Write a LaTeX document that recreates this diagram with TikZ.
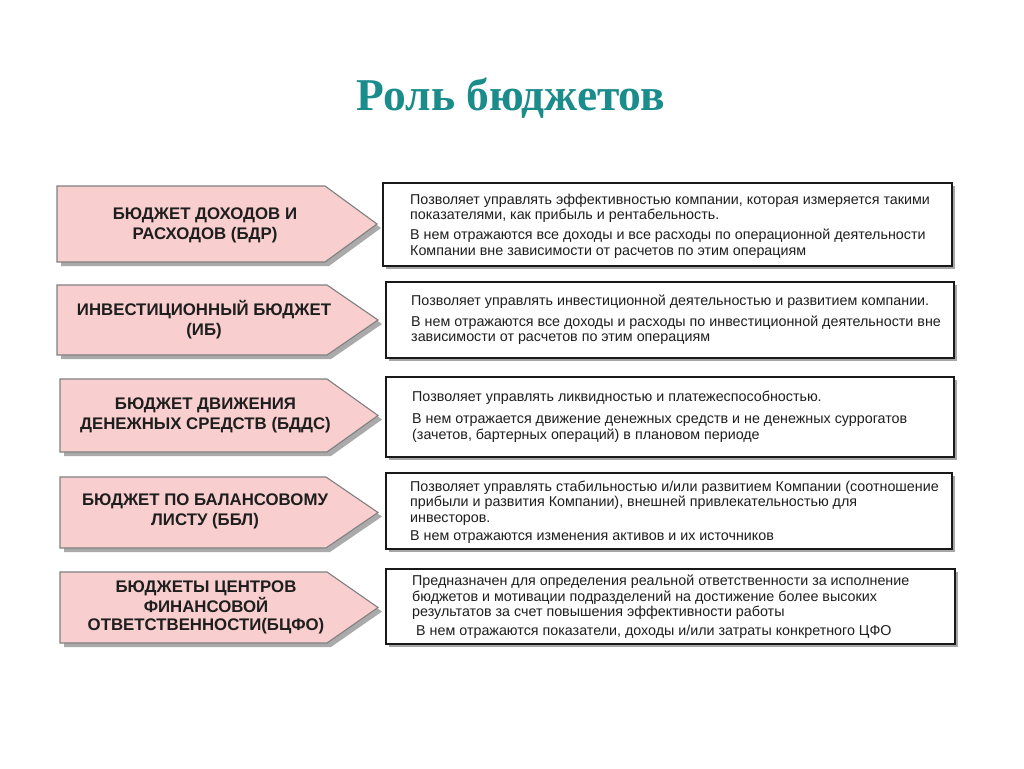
\documentclass[tikz,border=0pt]{standalone}
\usepackage{fontspec}
\setmainfont{Liberation Sans}
\newfontfamily\titlefont{Liberation Serif}
\usetikzlibrary{calc}
\definecolor{pinkfill}{RGB}{249,206,206}
\definecolor{arrowline}{RGB}{128,128,128}
\definecolor{shadowgray}{RGB}{170,170,170}
\definecolor{titleteal}{RGB}{26,140,140}
\definecolor{txt}{RGB}{30,30,30}
\tikzset{
  arrowbody/.style={fill=pinkfill, draw=arrowline, line width=1.1pt, line join=miter},
  arrowshadow/.style={fill=shadowgray},
  infobox/.style={draw=black!90, line width=1.8pt, fill=white},
  boxshadow/.style={fill=black!35},
  arrowtext/.style={font=\bfseries\fontsize{16.8}{20}\selectfont, text=txt, align=center, inner sep=0pt},
  infotext/.style={font=\fontsize{14.3}{15.7}\selectfont, text=txt, align=left, inner sep=0pt, anchor=north west},
}
% #1 left x, #2 top y, #3 body end x, #4 tip x, #5 bottom y
\newcommand\budgetarrow[5]{%
  \pgfmathsetmacro\mym{(#2+#5)/2}%
  \begin{scope}[shift={(4,4)}]
    \fill[arrowshadow] (#1,#2) -- (#3,#2) -- (#4,\mym) -- (#3,#5) -- (#1,#5) -- cycle;
  \end{scope}
  \draw[arrowbody] (#1,#2) -- (#3,#2) -- (#4,\mym) -- (#3,#5) -- (#1,#5) -- cycle;
}
\newcommand\infobox[4]{%
  \fill[boxshadow] (#1+2.5,#2+2.5) rectangle (#3+2.5,#4+2.5);
  \draw[infobox] (#1,#2) rectangle (#3,#4);
}
\begin{document}
\begin{tikzpicture}[x=1pt,y=-1pt]
\useasboundingbox (0,0) rectangle (1024,768);
\fill[white] (0,0) rectangle (1024,768);

\node[font=\titlefont\bfseries\fontsize{45.5}{50}\selectfont, text=titleteal, inner sep=0pt] (title) at (511,98) {Роль бюджетов};

% arrows
\budgetarrow{57}{186}{325}{377}{262}
\budgetarrow{57}{285}{327}{378}{355}
\budgetarrow{60}{379}{327}{378}{452}
\budgetarrow{60}{477}{326}{378}{548}
\budgetarrow{60}{572}{327}{378}{643}

\node[arrowtext] (a1) at (205,225) {БЮДЖЕТ ДОХОДОВ И\\РАСХОДОВ (БДР)};
\node[arrowtext] (a2) at (204,320) {ИНВЕСТИЦИОННЫЙ БЮДЖЕТ\\(ИБ)};
\node[arrowtext] (a3) at (205.5,415.5) {БЮДЖЕТ ДВИЖЕНИЯ\\ДЕНЕЖНЫХ СРЕДСТВ (БДДС)};
\node[arrowtext, font=\bfseries\fontsize{16.8}{18.5}\selectfont] (a5) at (206,607.5) {БЮДЖЕТЫ ЦЕНТРОВ\\ФИНАНСОВОЙ\\ОТВЕТСТВЕННОСТИ(БЦФО)};
\node[arrowtext] (a4) at (205,511.5) {БЮДЖЕТ ПО БАЛАНСОВОМУ\\ЛИСТУ (ББЛ)};

% boxes
\infobox{383}{183}{952}{266}
\infobox{386}{282}{954}{358}
\infobox{386}{377}{954}{457}
\infobox{386}{473}{952}{549}
\infobox{386}{569}{955}{644}

\node[infotext] (b1) at (410,193.5) {Позволяет управлять эффективностью компании, которая измеряется такими\\показателями, как прибыль и рентабельность.\\[4.3pt]В нем отражаются все доходы и все расходы по операционной деятельности\\Компании вне зависимости от расчетов по этим операциям};
\node[infotext] (b2) at (411,294.5) {Позволяет управлять инвестиционной деятельностью и развитием компании.\\[5pt]В нем отражаются все доходы и расходы по инвестиционной деятельности вне\\зависимости от расчетов по этим операциям};
\node[infotext] (b3) at (412,390.5) {Позволяет управлять ликвидностью и платежеспособностью.\\[7pt]В нем отражается движение денежных средств и не денежных суррогатов\\(зачетов, бартерных операций) в плановом периоде};
\node[infotext] (b4) at (410,480.5) {Позволяет управлять стабильностью и/или развитием Компании (соотношение\\прибыли и развития Компании), внешней привлекательностью для\\инвесторов.\\[2.5pt]В нем отражаются изменения активов и их источников};
\node[infotext] (b5) at (412,574.5) {Предназначен для определения реальной ответственности за исполнение\\бюджетов и мотивации подразделений на достижение более высоких\\результатов за счет повышения эффективности работы\\[3pt]\hspace*{4pt}В нем отражаются показатели, доходы и/или затраты конкретного ЦФО};
\end{tikzpicture}
\end{document}
